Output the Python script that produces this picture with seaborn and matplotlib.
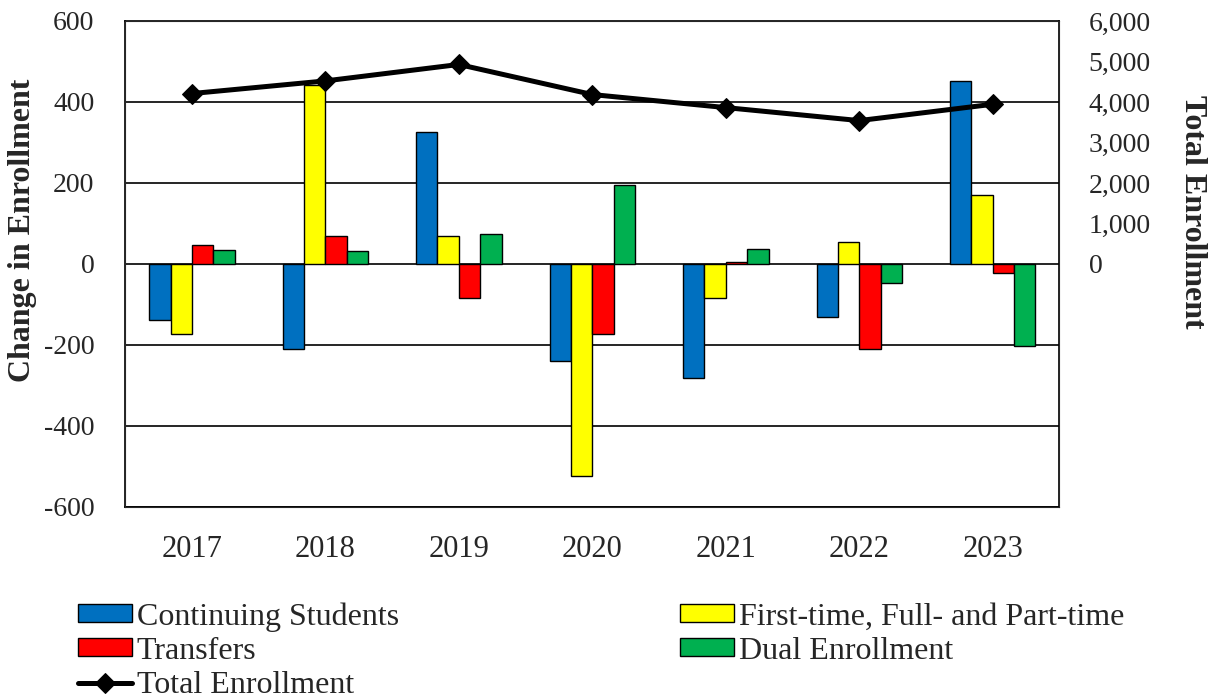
import pandas as pd
import numpy as np
import matplotlib
matplotlib.use("Agg")
import matplotlib.pyplot as plt
import seaborn as sns

# data
years = ["2017", "2018", "2019", "2020", "2021", "2022", "2023"]
continuing = [-139, -211, 327, -240, -281, -130, 452]
first_time = [-172, 442, 69, -523, -84, 54, 171]
transfers = [47, 68, -84, -172, 5, -211, -23]
dual = [35, 31, 73, 196, 37, -46, -204]
total = [4208, 4520, 4926, 4183, 3861, 3540, 3943]

series_names = ["Continuing Students", "First-time, Full- and Part-time", "Transfers", "Dual Enrollment"]
colors = ["#0070C0", "#FFFF00", "#FF0000", "#00B050"]

sns.set_style("white")
plt.rcParams["font.family"] = ["Liberation Serif", "DejaVu Serif"]
plt.rcParams["axes.unicode_minus"] = False

df = pd.DataFrame({"year": years * 4,
                   "value": continuing + first_time + transfers + dual,
                   "series": np.repeat(series_names, len(years))})
df_total = pd.DataFrame({"year": years, "total": total})

fig, ax = plt.subplots(figsize=(12.15, 7), dpi=100)
fig.subplots_adjust(left=0.103, right=0.872, top=0.97, bottom=0.276)

sns.barplot(data=df, x="year", y="value", hue="series", palette=colors, width=0.64,
            edgecolor="black", linewidth=1, saturation=1, ax=ax)

ax.set_ylim(-600, 600)
ax.set_yticks(range(-600, 601, 200))
ax.set_xlim(-0.5, 6.5)
ax.yaxis.grid(True, color="black", linewidth=1.2)
ax.set_axisbelow(True)
ax.set_xlabel("")
ax.set_ylabel("Change in Enrollment", fontsize=23, fontweight="bold")
ax.yaxis.set_label_coords(-0.094, 0.57)
ax.tick_params(axis="y", length=0, pad=22, labelsize=20)
ax.tick_params(axis="x", length=0, pad=20, labelsize=22)
for sp in ax.spines.values():
    sp.set_color("black")
    sp.set_linewidth(1.2)

ax2 = ax.twinx()
sns.lineplot(data=df_total, x="year", y="total", color="black", linewidth=3.6,
             marker="D", markersize=10, markeredgecolor="black", label="Total Enrollment",
             sort=False, ax=ax2)
ax2.set_ylim(-6000, 6000)
ax2.set_yticks(range(0, 6001, 1000))
ax2.set_yticklabels([f"{v:,}" for v in range(0, 6001, 1000)])
ax2.set_ylabel("Total Enrollment", fontsize=23, fontweight="bold", rotation=270, va="bottom")
ax2.yaxis.set_label_coords(1.127, 0.607)
ax2.tick_params(axis="y", length=0, pad=21, labelsize=20)
ax2.set_xlim(-0.5, 6.5)

h1, l1 = ax.get_legend_handles_labels()
h2, l2 = ax2.get_legend_handles_labels()
ax.get_legend().remove()
ax2.get_legend().remove()

# matplotlib fills legend columns first: col 1 then col 2
handles = [h1[0], h1[2], h2[0], h1[1], h1[3]]
labels = [l1[0], l1[2], l2[0], l1[1], l1[3]]
fig.legend(handles, labels, loc="upper left", bbox_to_anchor=(0.064, 0.14),
           ncol=2, frameon=False, fontsize=23, handlelength=1.7, handleheight=0.5,
           handletextpad=0.15, labelspacing=0.16, columnspacing=8.8,
           borderpad=0, borderaxespad=0)

plt.savefig("out.png", dpi=100)
